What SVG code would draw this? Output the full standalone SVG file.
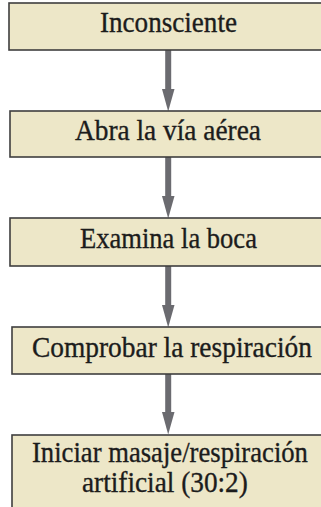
<svg xmlns="http://www.w3.org/2000/svg" width="321" height="507" viewBox="0 0 321 507">
<style>
.box{fill:#ede7c8;stroke:#3f3f3f;stroke-width:1.6}
.t{font-family:"Liberation Serif",serif;font-size:29px;fill:#1c1c1c;stroke:#1c1c1c;stroke-width:0.35}
.sh{fill:#6b6b70}
</style>
<rect width="321" height="507" fill="#ffffff"/>
<g id="connectors">
<g class="sh">
<rect x="165.2" y="50" width="6" height="40"/><polygon points="162,89 174.5,89 168.2,111.5"/>
<rect x="165.2" y="157" width="6" height="40"/><polygon points="162,196 174.5,196 168.2,218.5"/>
<rect x="165.2" y="266" width="6" height="40"/><polygon points="162,305 174.5,305 168.2,327.5"/>
<rect x="165.2" y="374" width="6" height="39"/><polygon points="162,412 174.5,412 168.2,434.5"/>
</g>
</g>
<g id="n1"><rect class="box" x="9" y="3" width="320" height="47"/><text class="t" transform="translate(100,32.3) scale(0.935,1)">Inconsciente</text></g>
<g id="n2"><rect class="box" x="10" y="111" width="320" height="46"/><text class="t" transform="translate(75,140) scale(0.943,1)">Abra la vía aérea</text></g>
<g id="n3"><rect class="box" x="10" y="218" width="320" height="48"/><text class="t" transform="translate(80,248) scale(0.916,1)">Examina la boca</text></g>
<g id="n4"><rect class="box" x="12" y="327" width="320" height="47"/><text class="t" transform="translate(32,357) scale(0.945,1)">Comprobar la respiración</text></g>
<g id="n5"><rect class="box" x="12" y="435" width="320" height="80"/><text class="t" transform="translate(32,462) scale(0.919,1)">Iniciar masaje/respiración</text><text class="t" transform="translate(82,492) scale(0.941,1)">artificial (30:2)</text></g>
</svg>
